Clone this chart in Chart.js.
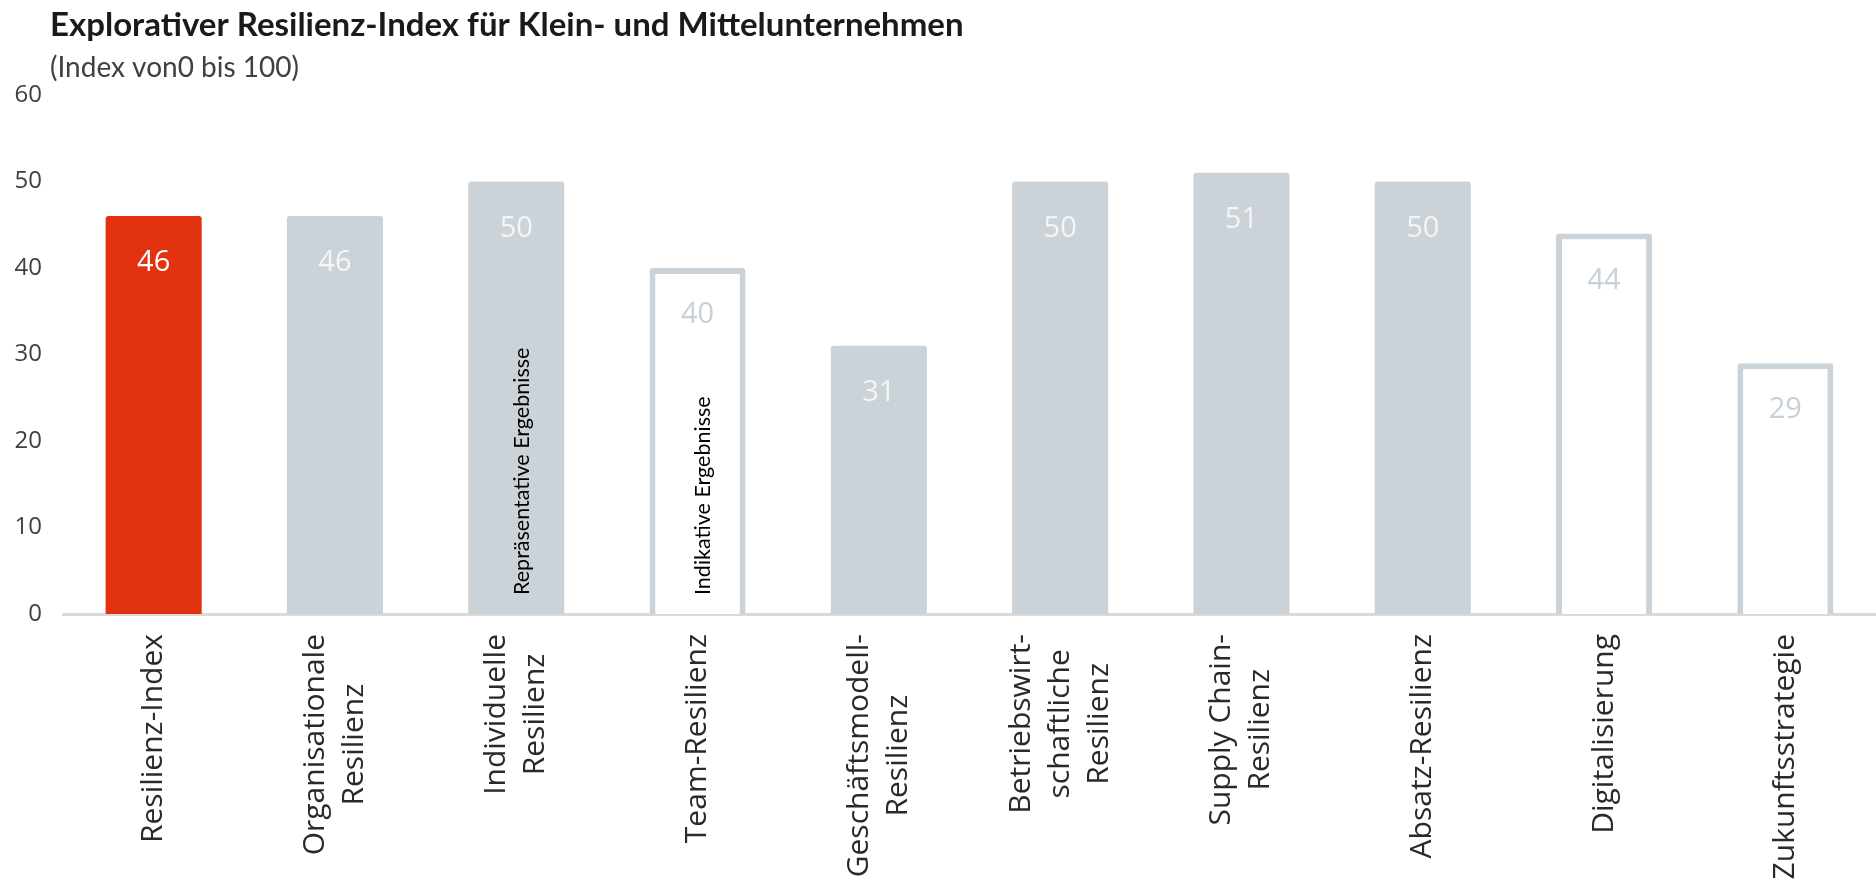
<!DOCTYPE html>
<html>
<head>
<meta charset="utf-8">
<script src="https://cdn.jsdelivr.net/npm/chart.js@4.4.1/dist/chart.umd.min.js"></script>
<style>
    html, body { margin: 0; padding: 0; background: #fff; }
    #chart { display: block; }
</style>
</head>
<body>
<canvas id="chart" width="1876" height="890"></canvas>
<script>
"use strict";

const titleText = 'Explorativer Resilienz-Index für Klein- und Mittelunternehmen';
const subtitleText = '(Index von0 bis 100)';

const categories = [
    ['Resilienz-Index'],
    ['Organisationale', 'Resilienz'],
    ['Individuelle', 'Resilienz'],
    ['Team-Resilienz'],
    ['Geschäftsmodell-', 'Resilienz'],
    ['Betriebswirt-', 'schaftliche', 'Resilienz'],
    ['Supply Chain-', 'Resilienz'],
    ['Absatz-Resilienz'],
    ['Digitalisierung'],
    ['Zukunftsstrategie']
];
const values = [46, 46, 50, 40, 31, 50, 51, 50, 44, 29];
// index = Gesamtindex, rep = repräsentativ, ind = indikativ
const resultType = ['index', 'rep', 'rep', 'ind', 'rep', 'rep', 'rep', 'rep', 'ind', 'ind'];
const yTicks = [0, 10, 20, 30, 40, 50, 60];
const notes = [
    {category: 2, text: 'Repräsentative Ergebnisse'},
    {category: 3, text: 'Indikative Ergebnisse'}
];

const RED = '#e3320f',
    GREY = '#cbd3d8',
    PALE = '#c6d0d7';

const fillFor = t => t === 'index' ? RED : (t === 'rep' ? GREY : '#ffffff');

// title + subtitle, drawn by hand so they can sit right of the y labels
const heading = {
    id: 'heading',
    afterDraw(chart) {
        const {ctx} = chart;
        ctx.save();
        ctx.textAlign = 'left';
        ctx.textBaseline = 'middle';
        ctx.fillStyle = '#1a1a1a';
        ctx.font = 'bold 33px Lato';
        ctx.fillText(titleText, 50, 25);
        ctx.fillStyle = '#404040';
        ctx.font = '28px Lato';
        ctx.fillText(subtitleText, 50, 68);
        ctx.restore();
    }
};

// values inside the bars + the two vertical notes
const barText = {
    id: 'barText',
    afterDatasetsDraw(chart) {
        const {ctx, chartArea} = chart,
            meta = chart.getDatasetMeta(0);
        ctx.save();
        ctx.font = '29px "Open Sans"';
        ctx.textAlign = 'center';
        ctx.textBaseline = 'middle';
        meta.data.forEach((bar, i) => {
            ctx.fillStyle = resultType[i] === 'ind' ? PALE : (resultType[i] === 'index' ? '#ffffff' : '#f3f5f6');
            ctx.fillText(String(values[i]), bar.x, bar.y + 47);
        });

        ctx.font = '21.5px Lato';
        ctx.fillStyle = '#000';
        ctx.textAlign = 'left';
        notes.forEach(n => {
            const bar = meta.data[n.category];
            ctx.save();
            ctx.translate(bar.x + 6, chartArea.bottom - 19);
            ctx.rotate(-Math.PI / 2);
            ctx.fillText(n.text, 0, 0);
            ctx.restore();
        });
        ctx.restore();
    }
};

// rotated category labels, lines centred on each other
const xLabels = {
    id: 'xLabels',
    afterDraw(chart) {
        const {ctx} = chart,
            scale = chart.scales.x,
            lh = 39;
        ctx.save();
        ctx.font = '30px "Open Sans"';
        ctx.fillStyle = '#2a2a2a';
        ctx.textAlign = 'center';
        ctx.textBaseline = 'middle';
        categories.forEach((lines, i) => {
            const cx = scale.getPixelForValue(i),
                maxW = Math.max(...lines.map(l => ctx.measureText(l).width)),
                x0 = cx - (lines.length - 1) * lh / 2,
                yc = scale.top + 20 + maxW / 2;
            lines.forEach((l, j) => {
                ctx.save();
                ctx.translate(x0 + j * lh, yc);
                ctx.rotate(-Math.PI / 2);
                ctx.fillText(l, 0, 0);
                ctx.restore();
            });
        });
        ctx.restore();
    }
};

new Chart(document.getElementById('chart'), {
    type: 'bar',
    data: {
        labels: categories,
        datasets: [{
            data: values,
            backgroundColor: resultType.map(fillFor),
            borderColor: GREY,
            borderWidth: resultType.map(t => t === 'ind' ? 6 : 0),
            borderSkipped: 'start',
            borderRadius: 3,
            categoryPercentage: 1,
            barPercentage: 0.53
        }]
    },
    options: {
        responsive: false,
        animation: false,
        devicePixelRatio: 1,
        layout: {padding: {left: 10, right: 0, top: 95, bottom: 0}},
        plugins: {
            legend: {display: false},
            tooltip: {enabled: false},
            title: {display: false}
        },
        scales: {
            x: {
                grid: {display: false},
                border: {display: true, color: '#dadada', width: 3},
                ticks: {display: false},
                afterFit(s) { s.height = 276; }
            },
            y: {
                min: 0,
                max: 60,
                afterBuildTicks(s) { s.ticks = yTicks.map(v => ({value: v})); },
                grid: {display: false},
                border: {display: false},
                ticks: {font: {family: 'Open Sans', size: 24}, color: '#404040', padding: 13},
                afterFit(s) { s.width = 53; }
            }
        }
    },
    plugins: [barText, xLabels, heading]
});
</script>
</body>
</html>
